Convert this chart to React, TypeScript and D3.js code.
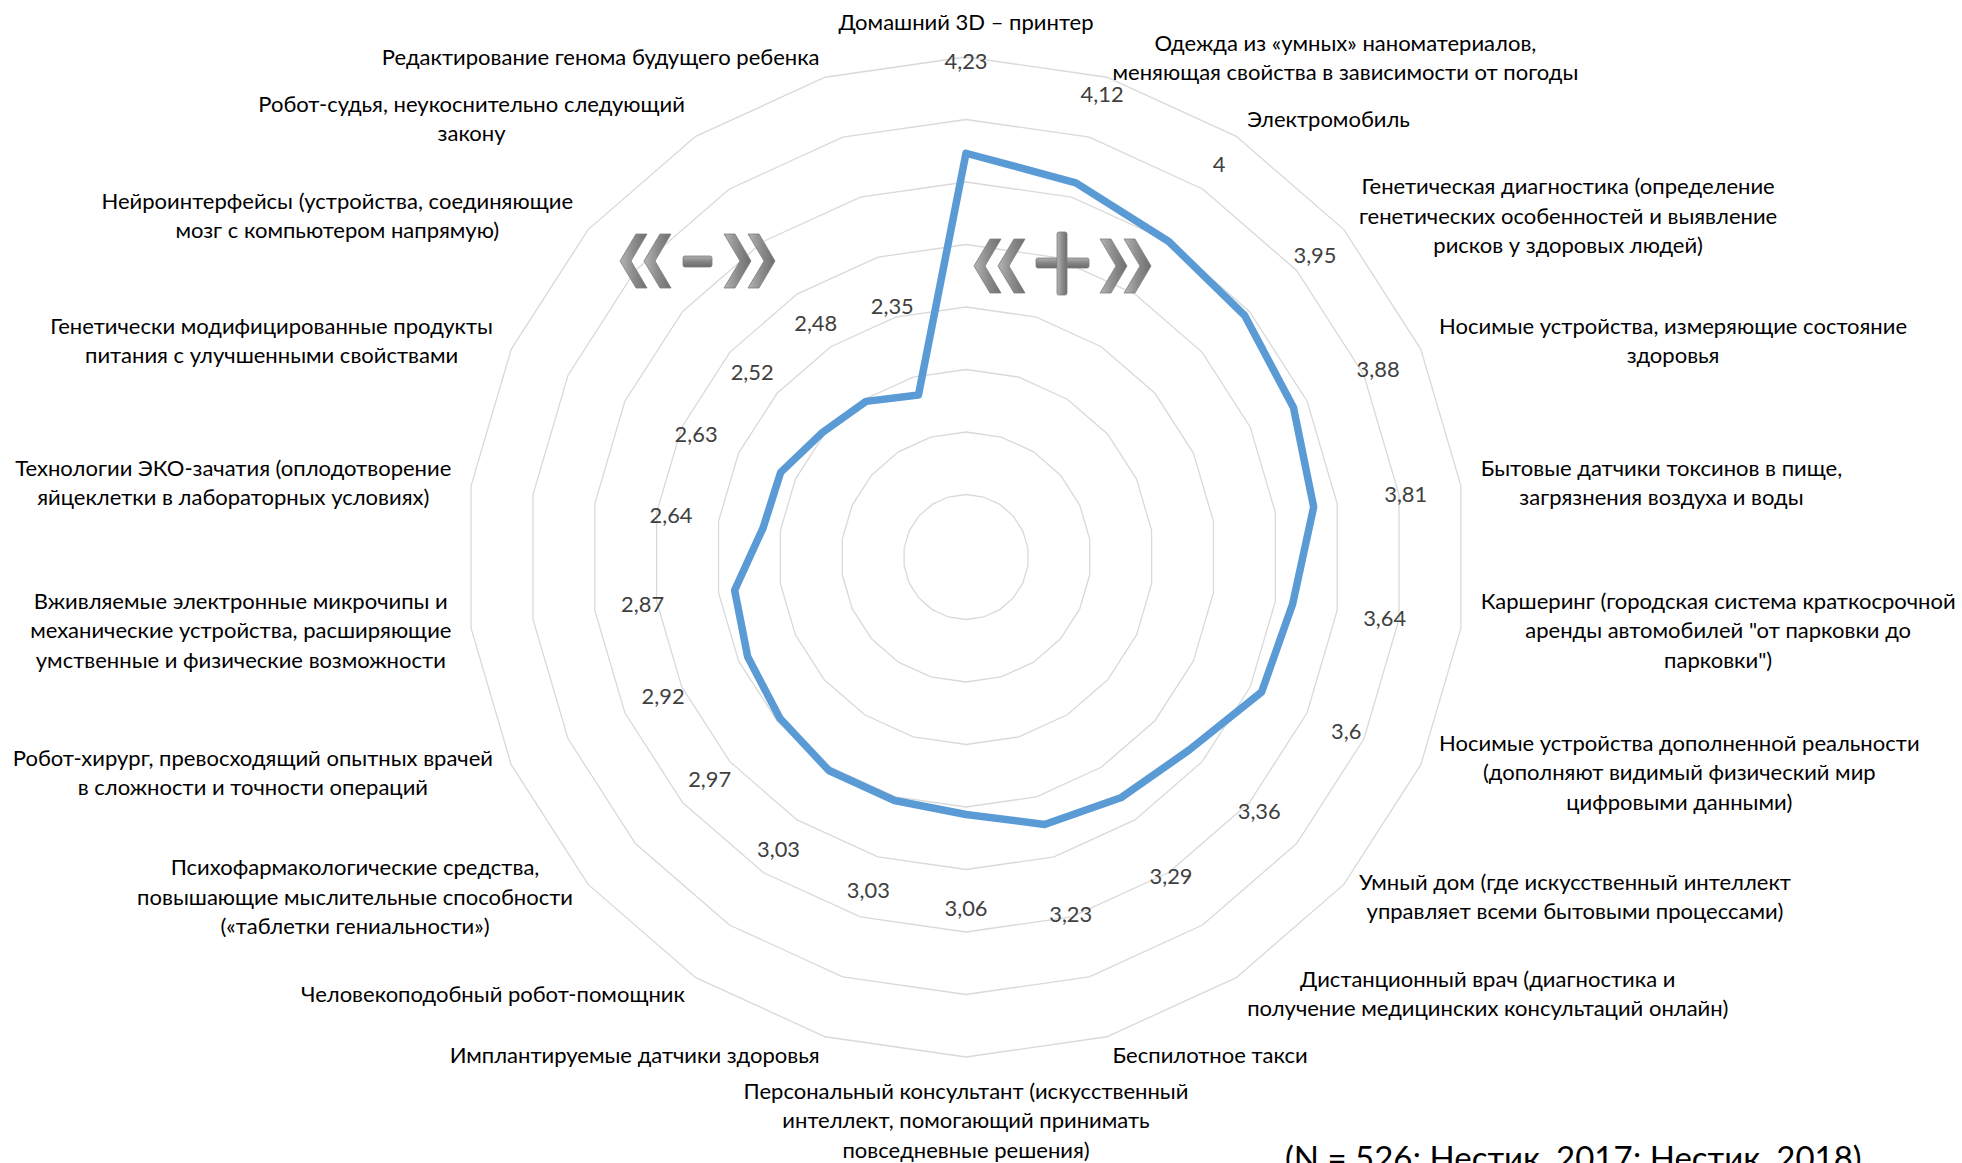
import React, { useEffect, useRef } from 'react';
import * as d3 from 'd3';

// Survey: attitude to new technologies, clockwise from the top
const categories: string[][] = [
  ['Домашний 3D – принтер'],
  ['Одежда из «умных» наноматериалов,', 'меняющая свойства в зависимости от погоды'],
  ['Электромобиль'],
  ['Генетическая диагностика (определение', 'генетических особенностей и выявление', 'рисков у здоровых людей)'],
  ['Носимые устройства, измеряющие состояние', 'здоровья'],
  ['Бытовые датчики токсинов в пище,', 'загрязнения воздуха и воды'],
  ['Каршеринг (городская система краткосрочной', 'аренды автомобилей "от парковки до', 'парковки")'],
  ['Носимые устройства дополненной реальности', '(дополняют видимый физический мир', 'цифровыми данными)'],
  ['Умный дом (где искусственный интеллект', 'управляет всеми бытовыми процессами)'],
  ['Дистанционный врач (диагностика и', 'получение медицинских консультаций онлайн)'],
  ['Беспилотное такси'],
  ['Персональный консультант (искусственный', 'интеллект, помогающий принимать', 'повседневные решения)'],
  ['Имплантируемые датчики здоровья'],
  ['Человекоподобный робот-помощник'],
  ['Психофармакологические средства,', 'повышающие мыслительные способности', '(«таблетки гениальности»)'],
  ['Робот-хирург, превосходящий опытных врачей', 'в сложности и точности операций'],
  ['Вживляемые электронные микрочипы и', 'механические устройства, расширяющие', 'умственные и физические возможности'],
  ['Технологии ЭКО-зачатия (оплодотворение', 'яйцеклетки в лабораторных условиях)'],
  ['Генетически модифицированные продукты', 'питания с улучшенными свойствами'],
  ['Нейроинтерфейсы (устройства, соединяющие', 'мозг с компьютером напрямую)'],
  ['Робот-судья, неукоснительно следующий', 'закону'],
  ['Редактирование генома будущего ребенка'],
];

const values = [4.23, 4.12, 4, 3.95, 3.88, 3.81, 3.64, 3.6, 3.36, 3.29, 3.23,
  3.06, 3.03, 3.03, 2.97, 2.92, 2.87, 2.64, 2.63, 2.52, 2.48, 2.35];

const ringValues = [1.5, 2, 2.5, 3, 3.5, 4, 4.5, 5];
const axisMin = 1;
const axisMax = 5;

const note = '(N = 526; Нестик, 2017; Нестик, 2018)';

const W = 1962;
const H = 1163;
const CX = 966;
const CY = 557;
const R = 500;
const FONT = "Lato, 'Open Sans', sans-serif";

// left chevron polygon, x0 = left tip
function chevron(x0: number, cy: number, w: number, h: number, t: number, right: boolean) {
  let pts = [[0, 0], [w - t, -h / 2], [w, -h / 2], [t, 0], [w, h / 2], [w - t, h / 2]];
  if (right) pts = pts.map(([x, y]) => [w - x, y]);
  return pts.map(([x, y]) => `${x0 + x},${cy + y}`).join(' ');
}

export default function App() {
  const ref = useRef<SVGSVGElement>(null);

  useEffect(() => {
    const svg = d3.select(ref.current!);
    svg.selectAll('*').remove();

    // fit font sizes to the widths in the original (Calibri-like)
    const measure = (s: string) => {
      const t = svg.append('text').attr('font-family', FONT).attr('font-size', 100).text(s);
      const w = (t.node() as SVGTextElement).getComputedTextLength();
      t.remove();
      return w;
    };
    const fs = 100 * 475 / measure('Каршеринг (городская система краткосрочной');
    const vfs = 100 * 43 / measure('3,95');
    const nfs = 100 * 577 / measure(note);
    const lineH = 29.3;

    const defs = svg.append('defs');
    const grad = defs.append('linearGradient').attr('id', 'bevel')
      .attr('x1', 0).attr('y1', 0).attr('x2', 1).attr('y2', 0);
    grad.append('stop').attr('offset', '0%').attr('stop-color', '#b4b4b4');
    grad.append('stop').attr('offset', '50%').attr('stop-color', '#8c8c8c');
    grad.append('stop').attr('offset', '100%').attr('stop-color', '#6e6e6e');
    const gradV = defs.append('linearGradient').attr('id', 'bevelV')
      .attr('x1', 0).attr('y1', 0).attr('x2', 0).attr('y2', 1);
    gradV.append('stop').attr('offset', '0%').attr('stop-color', '#b0b0b0');
    gradV.append('stop').attr('offset', '50%').attr('stop-color', '#858585');
    gradV.append('stop').attr('offset', '100%').attr('stop-color', '#6a6a6a');

    const n = categories.length;
    const angle = (i: number) => (i * 2 * Math.PI) / n;
    const r = d3.scaleLinear([axisMin, axisMax], [0, R]);

    const g = svg.append('g').attr('transform', `translate(${CX},${CY})`);

    // grid rings
    const ring = d3.lineRadial<number>()
      .angle((_, i) => angle(i))
      .radius(d => r(d))
      .curve(d3.curveLinearClosed);
    g.selectAll('path.ring')
      .data(ringValues)
      .join('path')
      .attr('class', 'ring')
      .attr('d', v => ring(d3.range(n).map(() => v)))
      .attr('fill', 'none')
      .attr('stroke', '#d9d9d9')
      .attr('stroke-width', 1.3);

    // series
    g.append('path')
      .attr('d', ring(values))
      .attr('fill', 'none')
      .attr('stroke', '#5b9bd5')
      .attr('stroke-width', 7.5)
      .attr('stroke-linejoin', 'round');

    // value labels
    const off = 93;
    g.selectAll('text.val')
      .data(values)
      .join('text')
      .attr('class', 'val')
      .attr('x', (v, i) => (r(v) + off) * Math.sin(angle(i)))
      .attr('y', (v, i) => -(r(v) + off) * Math.cos(angle(i)) + vfs * 0.38)
      .attr('text-anchor', 'middle')
      .attr('font-family', FONT)
      .attr('font-size', vfs)
      .attr('fill', '#404040')
      .text(v => String(v).replace('.', ','));

    // category labels
    const gap = 20;
    categories.forEach((lines, i) => {
      const a = angle(i);
      const dx = Math.sin(a);
      const dy = -Math.cos(a);
      const vx = R * dx;
      const vy = R * dy;
      const t = g.append('text')
        .attr('font-family', FONT)
        .attr('font-size', fs)
        .attr('fill', '#000')
        .attr('text-anchor', 'middle');
      const spans = lines.map(l => t.append('tspan').text(l));
      const w = d3.max(spans, s => (s.node() as SVGTSpanElement).getComputedTextLength())!;
      const h = lines.length * lineH;
      let cx: number;
      let cy: number;
      if (Math.abs(dx) < 0.01) {
        cx = vx;
        cy = vy + Math.sign(dy) * (gap + h / 2);
      } else {
        cx = vx + gap * dx + Math.sign(dx) * w / 2;
        cy = vy + gap * dy;
      }
      spans.forEach((s, k) => {
        s.attr('x', cx).attr('y', cy - h / 2 + lineH * (k + 0.5) + fs * 0.33);
      });
    });

    // «–» and «+» marks
    const marks = svg.append('g').attr('stroke', '#7d7d7d').attr('stroke-width', 0.8);
    const chev = (x0: number, cy: number, right: boolean) =>
      marks.append('polygon').attr('points', chevron(x0, cy, 27, 54, 11, right)).attr('fill', 'url(#bevel)');
    chev(620, 261, false);
    chev(644, 261, false);
    marks.append('rect').attr('x', 683).attr('y', 256).attr('width', 29).attr('height', 11).attr('rx', 2)
      .attr('fill', 'url(#bevelV)');
    chev(724, 261, true);
    chev(748, 261, true);

    chev(974, 266, false);
    chev(998, 266, false);
    marks.append('rect').attr('x', 1036).attr('y', 258).attr('width', 53).attr('height', 10).attr('rx', 2)
      .attr('fill', 'url(#bevelV)');
    marks.append('rect').attr('x', 1057).attr('y', 232).attr('width', 10).attr('height', 63).attr('rx', 2)
      .attr('fill', 'url(#bevel)');
    chev(1100, 266, true);
    chev(1124, 266, true);

    // source note, cut by the bottom edge as in the original
    svg.append('text')
      .attr('x', 1285)
      .attr('y', 1146 + nfs * 0.72)
      .attr('font-family', FONT)
      .attr('font-size', nfs)
      .attr('fill', '#000')
      .text(note);
  }, []);

  return (
    <svg
      ref={ref}
      width={W}
      height={H}
      style={{ position: 'absolute', left: 0, top: 0, background: '#fff' }}
    />
  );
}
